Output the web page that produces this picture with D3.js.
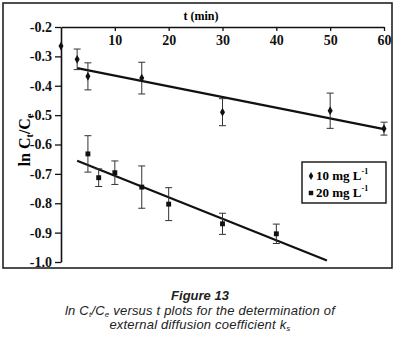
<!DOCTYPE html>
<html lang="en">
<head>
    <meta charset="UTF-8">
    <title>Figure 13</title>
    <script src="https://d3js.org/d3.v7.min.js"></script>
    <style>
        body {
            margin: 0;
            background: #ffffff;
        }
        .tick text {
            font-family: 'Liberation Serif', 'DejaVu Serif', serif;
            font-weight: bold;
            font-size: 14px;
            fill: #111;
        }
        .caption {
            font-family: 'Liberation Sans', Arial, sans-serif;
            font-style: italic;
            fill: #222;
        }
    </style>
</head>
<body>
    <div id="chart"></div>
    <script>
        // 10 mg/L series (diamonds)
        const t10 = [0, 3, 5, 15, 30, 50, 60];
        const y10 = [-0.265, -0.31, -0.368, -0.374, -0.49, -0.485, -0.546];
        const e10 = [0, 0.035, 0.046, 0.054, 0.046, 0.06, 0.022];

        // 20 mg/L series (squares)
        const t20 = [5, 7, 10, 15, 20, 30, 40];
        const y20 = [-0.632, -0.713, -0.696, -0.745, -0.803, -0.87, -0.904];
        const e20 = [0.062, 0.03, 0.04, 0.072, 0.056, 0.036, 0.033];

        // fitted lines: [intercept, slope, tStart, tEnd]
        const fit10 = [-0.329, -0.00364, 3, 60];
        const fit20 = [-0.633, -0.00733, 3, 49.4];

        const xTicks = [10, 20, 30, 40, 50, 60];
        const yTicks = [-0.2, -0.3, -0.4, -0.5, -0.6, -0.7, -0.8, -0.9, -1.0];
        const yTickLabels = ["-0.2", "-0.3", "-0.4", "-0.5", "-0.6", "-0.7", "-0.8", "-0.9", "-1.0"];

        const width = 401;
        const height = 338;

        const svg = d3.select("#chart")
            .append("svg")
            .attr("width", width)
            .attr("height", height);

        svg.append("rect")
            .attr("x", 3).attr("y", 3)
            .attr("width", 389).attr("height", 265)
            .attr("fill", "none")
            .attr("stroke", "#222")
            .attr("stroke-width", 1.6);

        const x = d3.scaleLinear().domain([0, 60]).range([61, 384]);
        const y = d3.scaleLinear().domain([-1.0, -0.2]).range([262, 27]);

        // x axis on top, labels underneath
        const xAxis = svg.append("g")
            .attr("transform", `translate(0,${y(-0.2)})`)
            .call(d3.axisBottom(x).tickValues(xTicks).tickSize(4).tickSizeOuter(0).tickPadding(4).tickFormat(d3.format("d")));

        const yAxis = svg.append("g")
            .attr("transform", `translate(${x(0)},0)`)
            .call(d3.axisLeft(y).tickValues(yTicks).tickSize(6).tickSizeOuter(0).tickPadding(3)
                .tickFormat((d, i) => yTickLabels[i]));

        [xAxis, yAxis].forEach(g => {
            g.select(".domain").attr("stroke", "#111").attr("stroke-width", 1.6);
            g.selectAll(".tick line").attr("stroke", "#111").attr("stroke-width", 1.3);
        });

        svg.append("text")
            .attr("x", 201).attr("y", 20)
            .attr("text-anchor", "middle")
            .attr("font-family", "'Liberation Serif', serif")
            .attr("font-weight", "bold")
            .attr("font-size", "12px")
            .text("t (min)");

        const yLabel = svg.append("text")
            .attr("transform", "translate(30,140) rotate(-90)")
            .attr("text-anchor", "middle")
            .attr("font-family", "'Liberation Serif', serif")
            .attr("font-weight", "bold")
            .attr("font-size", "16px");
        yLabel.append("tspan").text("ln C");
        yLabel.append("tspan").attr("font-size", "10px").attr("dy", 3).text("t");
        yLabel.append("tspan").attr("dy", -3).text("/C");
        yLabel.append("tspan").attr("font-size", "10px").attr("dy", 3).text("e");

        // trend lines
        const line = d3.line().x(d => x(d[0])).y(d => y(d[1]));
        [fit10, fit20].forEach(f => {
            const pts = [[f[2], f[0] + f[1] * f[2]], [f[3], f[0] + f[1] * f[3]]];
            svg.append("path")
                .attr("d", line(pts))
                .attr("stroke", "#111")
                .attr("stroke-width", 2.2)
                .attr("fill", "none");
        });

        // error bars + markers
        function drawSeries(ts, ys, es, symbol, size) {
            const pts = ts.map((t, i) => ({t: t, v: ys[i], e: es[i]}));
            const eb = svg.append("g")
                .attr("stroke", "#333")
                .attr("stroke-width", 1);
            pts.filter(d => d.e > 0).forEach(d => {
                eb.append("line")
                    .attr("x1", x(d.t)).attr("x2", x(d.t))
                    .attr("y1", y(d.v + d.e)).attr("y2", y(d.v - d.e));
                [d.v + d.e, d.v - d.e].forEach(v => {
                    eb.append("line")
                        .attr("x1", x(d.t) - 3.5).attr("x2", x(d.t) + 3.5)
                        .attr("y1", y(v)).attr("y2", y(v));
                });
            });
            svg.append("g").selectAll("path")
                .data(pts)
                .enter()
                .append("path")
                .attr("transform", d => `translate(${x(d.t)},${y(d.v)})`)
                .attr("d", d3.symbol().type(symbol).size(size))
                .attr("fill", "#111");
        }
        drawSeries(t10, y10, e10, d3.symbolDiamond, 22);
        drawSeries(t20, y20, e20, d3.symbolSquare, 24);

        // legend
        const legend = svg.append("g");
        legend.append("rect")
            .attr("x", 302).attr("y", 162)
            .attr("width", 84).attr("height", 41)
            .attr("fill", "#fff")
            .attr("stroke", "#111")
            .attr("stroke-width", 1.4);
        const items = [
            {label: "10 mg L", symbol: d3.symbolDiamond, size: 18, yy: 180},
            {label: "20 mg L", symbol: d3.symbolSquare, size: 20, yy: 197}
        ];
        items.forEach(it => {
            legend.append("path")
                .attr("transform", `translate(311,${it.yy - 4})`)
                .attr("d", d3.symbol().type(it.symbol).size(it.size))
                .attr("fill", "#111");
            const tx = legend.append("text")
                .attr("x", 316).attr("y", it.yy)
                .attr("font-family", "'Liberation Serif', serif")
                .attr("font-weight", "bold")
                .attr("font-size", "13px");
            tx.append("tspan").text(it.label);
            tx.append("tspan").attr("font-size", "8px").attr("dy", -6).text("-1");
        });

        // caption
        svg.append("text")
            .attr("class", "caption")
            .attr("x", 200).attr("y", 300)
            .attr("text-anchor", "middle")
            .attr("font-weight", "bold")
            .attr("font-size", "13px")
            .text("Figure 13");

        const cap2 = svg.append("text")
            .attr("class", "caption")
            .attr("x", 200).attr("y", 315)
            .attr("text-anchor", "middle")
            .attr("font-size", "13px")
            .attr("letter-spacing", "0.2px");
        cap2.append("tspan").text("ln C");
        cap2.append("tspan").attr("font-size", "8px").attr("dy", 2).text("t");
        cap2.append("tspan").attr("dy", -2).text("/C");
        cap2.append("tspan").attr("font-size", "8px").attr("dy", 2).text("e");
        cap2.append("tspan").attr("dy", -2).text(" versus t plots for the determination of");

        const cap3 = svg.append("text")
            .attr("class", "caption")
            .attr("x", 200).attr("y", 329)
            .attr("text-anchor", "middle")
            .attr("font-size", "13px")
            .attr("letter-spacing", "0.2px");
        cap3.append("tspan").text("external diffusion coefficient k");
        cap3.append("tspan").attr("font-size", "8px").attr("dy", 2).text("s");
    </script>
</body>
</html>
